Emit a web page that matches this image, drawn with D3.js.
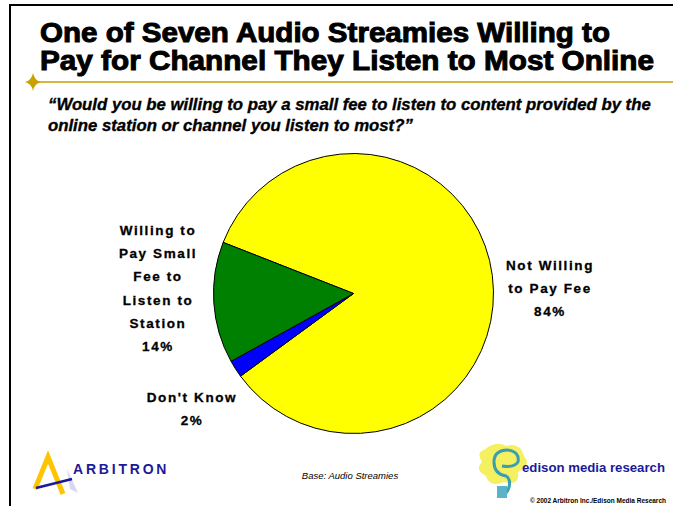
<!DOCTYPE html>
<html>
<head>
<meta charset="utf-8">
<script src="https://cdn.jsdelivr.net/npm/d3@7"></script>
<style>
  html, body { margin: 0; padding: 0; background: #fff; }
  svg { display: block; }
  text { font-family: "Liberation Sans", Arial, sans-serif; }
</style>
</head>
<body>
<svg id="chart" width="673" height="506"></svg>
<script>
// Survey answers, in drawing order (clockwise)
const categories = ["Not Willing to Pay Fee", "Don't Know", "Willing to Pay Small Fee to Listen to Station"];
const values = [84, 2, 14];
const colors = ["#ffff00", "#0000ff", "#008000"];
// Label lines for each slice (last line is the share)
const labelLines = [
  ["Not Willing", "to Pay Fee", "84%"],
  ["Don't Know", "2%"],
  ["Willing to", "Pay Small", "Fee to", "Listen to", "Station", "14%"]
];

const titleLines = [
  "One of Seven Audio Streamies Willing to",
  "Pay for Channel They Listen to Most Online"
];
const questionLines = [
  "\u201cWould you be willing to pay a small fee to listen to content provided by the",
  "online station or channel you listen to most?\u201d"
];

const svg = d3.select("#chart");

// Fit a text element's font size to a target width
function fitWidth(sel, target, base) {
  sel.attr("font-size", base);
  const w = sel.node().getComputedTextLength();
  return base * target / w;
}

// Frame: top and left rules
svg.append("rect").attr("x", 10).attr("y", 4).attr("width", 663).attr("height", 2).attr("fill", "#000");
svg.append("rect").attr("x", 9).attr("y", 4).attr("width", 2).attr("height", 502).attr("fill", "#000");

// Title: tall, heavy, slightly condensed
const titleLen = [570, 614];
svg.selectAll("text.title").data(titleLines).join("text")
  .attr("class", "title")
  .attr("x", 40)
  .attr("y", (d, i) => 42 + i * 28)
  .attr("font-size", 27.5)
  .attr("font-weight", "bold")
  .attr("stroke", "#000")
  .attr("stroke-width", 1)
  .attr("textLength", (d, i) => titleLen[i])
  .attr("lengthAdjust", "spacingAndGlyphs")
  .attr("fill", "#000")
  .text(d => d);

// Gold rule with a four-point star
svg.append("line").attr("x1", 33).attr("x2", 673).attr("y1", 82).attr("y2", 82)
  .attr("stroke", "#c9a100").attr("stroke-width", 1.5);
svg.append("path")
  .attr("d", "M33,73 Q34.5,80.5 41,82 Q34.5,83.5 33,91 Q31.5,83.5 25,82 Q31.5,80.5 33,73 Z")
  .attr("fill", "#c9a100");

// Question
const questions = svg.selectAll("text.question").data(questionLines).join("text")
  .attr("class", "question")
  .attr("x", 48)
  .attr("y", (d, i) => 110 + i * 21)
  .attr("font-weight", "bold")
  .attr("font-style", "italic")
  .attr("stroke", "#000")
  .attr("stroke-width", 0.35)
  .attr("fill", "#000")
  .text(d => d);
const qSize = fitWidth(d3.select(questions.nodes()[0]), 603, 15);
questions.attr("font-size", qSize);

// Pie
const cx = 353.5, cy = 293.5, r = 140;
const pie = d3.pie().sort(null).value(d => d)
  .startAngle(-68.6 * Math.PI / 180)
  .endAngle((360 - 68.6) * Math.PI / 180);
const arc = d3.arc().innerRadius(0).outerRadius(r);
const g = svg.append("g").attr("transform", `translate(${cx},${cy})`);
g.selectAll("path").data(pie(values)).join("path")
  .attr("d", arc)
  .attr("fill", (d, i) => colors[i])
  .attr("stroke", "#000")
  .attr("stroke-width", 1)
  .attr("stroke-linejoin", "round");

// Slice labels
const labelPos = [
  { x: 550, y: 270 },
  { x: 192, y: 402 },
  { x: 158, y: 235 }
];
labelLines.forEach((lines, k) => {
  const t = svg.append("text")
    .attr("text-anchor", "middle")
    .attr("font-size", 13.5)
    .attr("font-weight", "bold")
    .attr("letter-spacing", 1.6)
    .attr("stroke", "#000")
    .attr("stroke-width", 0.3)
    .attr("fill", "#000");
  lines.forEach((s, j) => {
    t.append("tspan")
      .attr("x", labelPos[k].x)
      .attr("y", labelPos[k].y + j * 23.2)
      .text(s);
  });
});

// Base note
svg.append("text").attr("x", 350).attr("y", 479).attr("text-anchor", "middle")
  .attr("font-size", 9.5).attr("font-style", "italic").attr("fill", "#000")
  .text("Base: Audio Streamies");

// Arbitron mark
const ab = svg.append("g");
ab.append("path").attr("d", "M70,489 L78,493 L67,469 Z").attr("fill", "#c8c8f0").attr("opacity", 0.7);
ab.append("path").attr("d", "M35,489 L48,457 L63,494")
  .attr("fill", "none").attr("stroke", "#ffc400").attr("stroke-width", 5).attr("stroke-linejoin", "miter");
ab.append("path").attr("d", "M36,488 L72,479")
  .attr("stroke", "#1a1a9a").attr("stroke-width", 2.5);
ab.append("text").attr("x", 73).attr("y", 474).attr("font-size", 14).attr("font-weight", "bold")
  .attr("letter-spacing", 2.8).attr("fill", "#1a1a9a").text("ARBITRON");

// Edison mark
const ed = svg.append("g");
ed.append("path")
  .attr("d", "M484,450 Q496,440 506,446 Q520,442 524,456 Q532,466 518,472 Q520,486 504,482 Q490,488 486,476 Q474,470 482,462 Q476,452 484,450 Z")
  .attr("fill", "#f4f060");
ed.append("path")
  .attr("d", "M508,450 Q494,450 494,462 Q494,474 506,476 Q512,480 508,490 L504,496")
  .attr("fill", "none").attr("stroke", "#3aa0b0").attr("stroke-width", 3);
ed.append("path")
  .attr("d", "M508,450 Q520,452 518,462 Q514,468 502,466")
  .attr("fill", "none").attr("stroke", "#3aa0b0").attr("stroke-width", 3);
ed.append("rect").attr("x", 497).attr("y", 486).attr("width", 10).attr("height", 12).attr("fill", "#5ab4c8");
const edText = ed.append("text").attr("x", 522).attr("y", 472)
  .attr("font-family", "'Liberation Serif', 'DejaVu Serif', serif")
  .attr("font-weight", "bold").attr("fill", "#1a1a9a")
  .text("edison media research");
edText.attr("font-size", fitWidth(edText, 143, 15));
svg.append("text").attr("x", 666).attr("y", 503).attr("text-anchor", "end")
  .attr("font-size", 6.5).attr("font-weight", "bold").attr("fill", "#000")
  .text("\u00a9 2002 Arbitron Inc./Edison Media Research");
</script>
</body>
</html>
